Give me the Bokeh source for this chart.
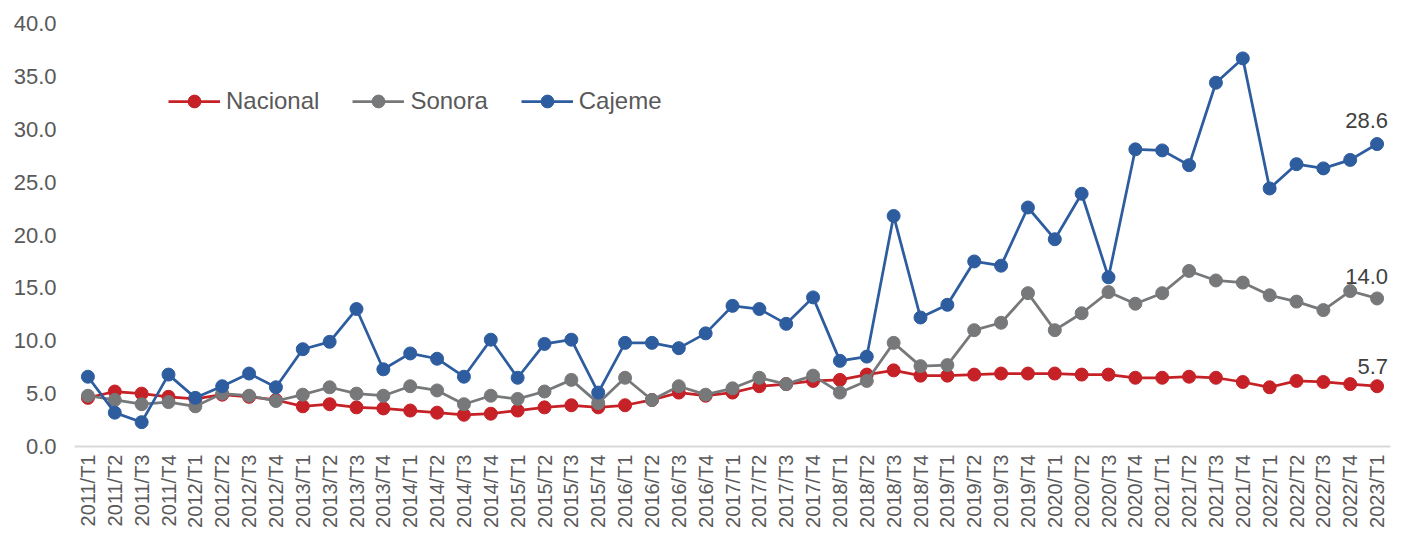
from bokeh.plotting import figure
from bokeh.models import (FactorRange, Range1d, FixedTicker, PrintfTickFormatter,
                          Legend, LegendItem, Label, ColumnDataSource)
from bokeh.embed import file_html
from bokeh.resources import INLINE
import math

categories = [
    "2011/T1", "2011/T2", "2011/T3", "2011/T4",
    "2012/T1", "2012/T2", "2012/T3", "2012/T4",
    "2013/T1", "2013/T2", "2013/T3", "2013/T4",
    "2014/T1", "2014/T2", "2014/T3", "2014/T4",
    "2015/T1", "2015/T2", "2015/T3", "2015/T4",
    "2016/T1", "2016/T2", "2016/T3", "2016/T4",
    "2017/T1", "2017/T2", "2017/T3", "2017/T4",
    "2018/T1", "2018/T2", "2018/T3", "2018/T4",
    "2019/T1", "2019/T2", "2019/T3", "2019/T4",
    "2020/T1", "2020/T2", "2020/T3", "2020/T4",
    "2021/T1", "2021/T2", "2021/T3", "2021/T4",
    "2022/T1", "2022/T2", "2022/T3", "2022/T4",
    "2023/T1",
]

nacional = [4.6, 5.2, 5.0, 4.7, 4.5, 4.9, 4.7, 4.4, 3.8, 4.0, 3.7, 3.6, 3.4, 3.2, 3.0,
            3.1, 3.4, 3.7, 3.9, 3.7, 3.9, 4.4, 5.1, 4.8, 5.1, 5.7, 5.9, 6.2, 6.3, 6.8,
            7.2, 6.7, 6.7, 6.8, 6.9, 6.9, 6.9, 6.8, 6.8, 6.5, 6.5, 6.6, 6.5, 6.1,
            5.6, 6.2, 6.1, 5.9, 5.7]

sonora = [4.8, 4.4, 4.0, 4.2, 3.8, 5.0, 4.8, 4.3, 4.9, 5.6, 5.0, 4.8, 5.7, 5.3, 4.0,
          4.8, 4.5, 5.2, 6.3, 4.1, 6.5, 4.4, 5.7, 4.9, 5.5, 6.5, 5.9, 6.7, 5.1, 6.2,
          9.8, 7.6, 7.7, 11.0, 11.7, 14.5, 11.0, 12.6, 14.6, 13.5, 14.5, 16.6, 15.7,
          15.5, 14.3, 13.7, 12.9, 14.7, 14.0]

cajeme = [6.6, 3.2, 2.3, 6.8, 4.6, 5.7, 6.9, 5.6, 9.2, 9.9, 13.0, 7.3, 8.8, 8.3, 6.6,
          10.1, 6.5, 9.7, 10.1, 5.1, 9.8, 9.8, 9.3, 10.7, 13.3, 13.0, 11.6, 14.1, 8.1,
          8.5, 21.8, 12.2, 13.4, 17.5, 17.1, 22.6, 19.6, 23.9, 16.0, 28.1, 28.0, 26.6,
          34.4, 36.7, 24.4, 26.7, 26.3, 27.1, 28.6]

series_names = ["Nacional", "Sonora", "Cajeme"]
series_values = [nacional, sonora, cajeme]
series_colors = ["#C52127", "#76787A", "#2E5D9F"]
y_ticks = [0, 5, 10, 15, 20, 25, 30, 35, 40]

FONT = "Liberation Sans"
TEXT_COLOR = "#595959"

p = figure(width=1395, height=538, x_range=FactorRange(*categories, range_padding=0),
           y_range=Range1d(0, 40), output_backend="svg", toolbar_location=None,
           min_border_left=74, min_border_right=5, min_border_top=23, min_border_bottom=92)
p.outline_line_color = None
p.xgrid.grid_line_color = None
p.ygrid.grid_line_color = None
p.background_fill_color = "white"

renderers = []
for name, vals, col in zip(series_names, series_values, series_colors):
    src = ColumnDataSource(dict(x=categories, y=vals))
    ln = p.line("x", "y", source=src, line_color=col, line_width=2.75)
    sc = p.scatter("x", "y", source=src, size=13, fill_color=col, line_color=col)
    renderers.append((name, [ln, sc]))

# y axis
p.yaxis.ticker = FixedTicker(ticks=y_ticks)
p.yaxis.formatter = PrintfTickFormatter(format="%.1f")
p.yaxis.axis_line_color = None
p.yaxis.major_tick_line_color = None
p.yaxis.minor_tick_line_color = None
p.yaxis.major_tick_out = 0
p.yaxis.major_label_standoff = 18
p.yaxis.major_label_text_font = FONT
p.yaxis.major_label_text_font_size = "22px"
p.yaxis.major_label_text_color = TEXT_COLOR

# x axis
p.xaxis.axis_line_color = "#D9D9D9"
p.xaxis.axis_line_width = 2
p.xaxis.major_tick_line_color = None
p.xaxis.minor_tick_line_color = None
p.xaxis.major_tick_out = 0
p.xaxis.major_label_standoff = 8
p.xaxis.major_label_orientation = math.pi / 2
p.xaxis.major_label_text_font = FONT
p.xaxis.major_label_text_font_size = "20px"
p.xaxis.major_label_text_color = TEXT_COLOR

legend = Legend(items=[LegendItem(label=n, renderers=r) for n, r in renderers],
                orientation="horizontal", location=(94, 329),
                label_text_font=FONT, label_text_font_size="24px",
                label_text_color=TEXT_COLOR, glyph_width=52, glyph_height=32,
                label_standoff=6, spacing=33, padding=0, margin=0,
                border_line_color=None, background_fill_alpha=0)
p.add_layout(legend, "center")

offsets = [20, 22, 24]
for vals, off in zip(series_values, offsets):
    p.add_layout(Label(x=len(categories) - 1 + 0.5, x_units="data", y=vals[-1],
                       text=f"{vals[-1]:.1f}", text_align="right", text_baseline="middle",
                       x_offset=11, y_offset=off, text_font=FONT,
                       text_font_size="22px", text_color="#404040"))

open("out.html", "w").write(file_html(p, INLINE))
